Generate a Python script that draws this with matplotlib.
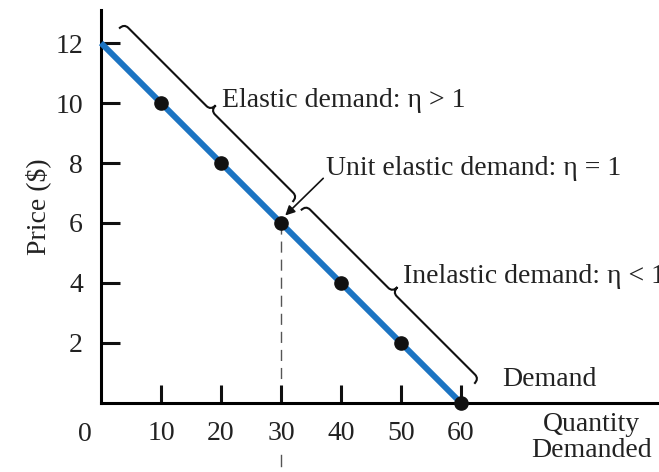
import matplotlib
matplotlib.use("Agg")
import matplotlib.pyplot as plt
import numpy as np
from matplotlib.path import Path
from matplotlib.patches import PathPatch
from matplotlib.transforms import IdentityTransform

# demand schedule
quantity = [0, 10, 20, 30, 40, 50, 60]
price = [12, 10, 8, 6, 4, 2, 0]
xticks = [10, 20, 30, 40, 50, 60]
yticks = [2, 4, 6, 8, 10, 12]

# brace ranges along the curve (quantity)
elastic_range = (0.3, 29.2)
inelastic_range = (30.6, 59.5)
unit_q, unit_p = 30, 6

plt.rcParams['font.family'] = ['Liberation Serif', 'DejaVu Serif']
FS = 20
blue = '#1c74c2'
txt = '#222222'

fig = plt.figure(figsize=(6.59, 4.72), dpi=100)
ax = fig.add_axes([0.1533, 0.1462, 0.8467, 0.8326])
ax.set_xlim(0, 93)
ax.set_ylim(0, 13.1)

ax.plot(quantity, price, color=blue, lw=4.3, solid_capstyle='butt', zorder=3, clip_on=False)
ax.plot(quantity[1:], price[1:], 'o', color='#111111', ms=9.5, zorder=4, clip_on=False)

# dashed guide from the unit elastic point down to the axis, plus a stub under the label
ax.plot([unit_q, unit_q], [unit_p, 0], color='#555555', lw=1, dashes=(8, 5),
        zorder=0.5)
ax.plot([unit_q, unit_q], [-1.75, -2.1], color='#555555', lw=1, zorder=0.5,
        clip_on=False)

for s in ['top', 'right']:
    ax.spines[s].set_visible(False)
ax.spines['left'].set_linewidth(2.2)
ax.spines['bottom'].set_linewidth(2.2)
ax.set_xticks(xticks)
ax.set_yticks(yticks)
ax.tick_params(axis='both', direction='in', width=2.2, labelsize=FS, color='#111111',
               labelcolor=txt)
ax.tick_params(axis='y', length=14, pad=13)
ax.tick_params(axis='x', length=13, pad=13)
ax.text(-2.7, -0.65, '0', fontsize=FS, color=txt, ha='center', va='top')

ax.set_ylabel('Price ($)', fontsize=FS, color=txt, labelpad=3)


def line_price(q):
    return np.interp(q, quantity, price)


def brace(q0, q1, d=30, h=7, r=6):
    p0 = ax.transData.transform((q0, line_price(q0)))
    p1 = ax.transData.transform((q1, line_price(q1)))
    L = np.hypot(*(p1 - p0))
    u = (p1 - p0) / L
    n = np.array([-u[1], u[0]])
    m = L / 2
    pts = [(0, d - h), (0, d), (r, d),
           (m - r, d), (m, d), (m, d + h), (m, d), (m + r, d),
           (L - r, d), (L, d), (L, d - h)]
    codes = [Path.MOVETO, Path.CURVE3, Path.CURVE3,
             Path.LINETO, Path.CURVE3, Path.CURVE3, Path.CURVE3, Path.CURVE3,
             Path.LINETO, Path.CURVE3, Path.CURVE3]
    verts = [p0 + s * u + t * n for s, t in pts]
    patch = PathPatch(Path(verts, codes), fill=False, lw=1.5, edgecolor='#111111',
                      transform=IdentityTransform(), clip_on=False)
    fig.add_artist(patch)


brace(*elastic_range)
brace(*inelastic_range)

ax.text(20.2, 10.1, 'Elastic demand: η > 1', fontsize=FS, color=txt,
        va='center', ha='left')
ax.text(50.3, 4.2, 'Inelastic demand: η < 1', fontsize=FS, color=txt,
        va='center', ha='left')
ax.annotate('Unit elastic demand: η = 1', xy=(30.7, 6.25), xytext=(37.5, 7.83),
            fontsize=FS, color=txt, va='center', ha='left',
            arrowprops=dict(arrowstyle='-|>', color='#111111', lw=1.2,
                            mutation_scale=14, shrinkA=0, shrinkB=0,
                            relpos=(0, 0.2)))
ax.text(66.8, 0.77, 'Demand', fontsize=FS, color=txt, va='center', ha='left')
ax.text(81.8, -1.15, 'Quantity\nDemanded', fontsize=FS, color=txt,
        va='center', ha='center', linespacing=1.05)

fig.savefig('out.png', dpi=100)
